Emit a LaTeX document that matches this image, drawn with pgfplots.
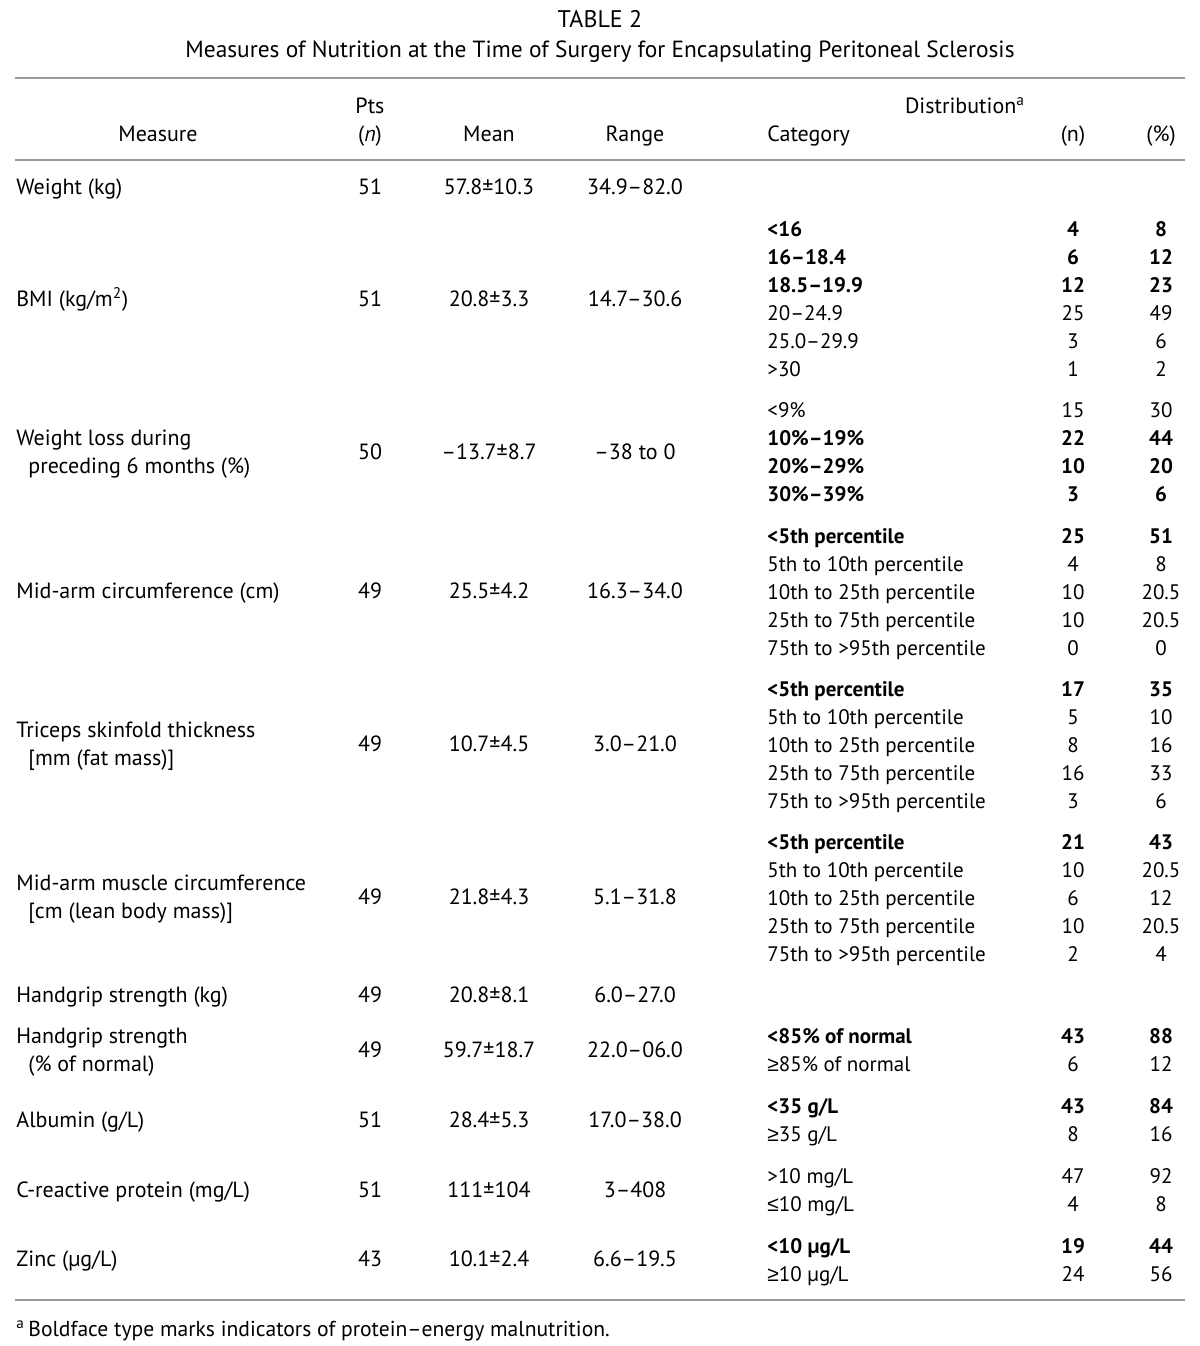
\documentclass[border=0pt]{standalone}
\usepackage{pgfplots}
\pgfplotsset{compat=1.18}
\usepackage{fontspec}
\setmainfont{PT Sans}
\newfontfamily\symf{Liberation Sans}
\newcommand{\GEsym}{{\symf ≥}}
\newcommand{\LEsym}{{\symf ≤}}
\newcommand{\lf}{\fontsize{11pt}{13pt}\selectfont}
\newcommand{\tl}[3]{\node[anchor=base west,inner sep=0pt,yshift=-4pt] at (axis cs:#1,#2) {#3};}
\newcommand{\tc}[3]{\node[anchor=base,inner sep=0pt,yshift=-4pt] at (axis cs:#1,#2) {#3};}
% measure row: y, name, pts, mean, range
\newcommand{\mrow}[5]{\tl{16}{#1}{\lf #2}\tc{370}{#1}{\lf #3}\tc{489}{#1}{\lf #4}\tc{635}{#1}{\lf #5}}
\newcommand{\mval}[4]{\tc{370}{#1}{\lf #2}\tc{489}{#1}{\lf #3}\tc{635}{#1}{\lf #4}}
% category row: y, cat, n, pct
\newcommand{\crow}[4]{\tl{767}{#1}{#2}\tc{1073}{#1}{#3}\tc{1161}{#1}{#4}}
\newcommand{\brow}[4]{\tl{767}{#1}{\bfseries #2}\tc{1073}{#1}{\bfseries #3}\tc{1161}{#1}{\bfseries #4}}
\begin{document}
\fontsize{10.5pt}{12pt}\selectfont
\begin{tikzpicture}
\begin{axis}[hide axis, scale only axis, width=600pt, height=673pt,
  xmin=0, xmax=1200, ymin=0, ymax=1346, y dir=reverse, clip=false]
\path (rel axis cs:0,0) rectangle (rel axis cs:1,1);
\addplot[gray!80, line width=1pt] coordinates {(15,78) (1185,78)};
\addplot[gray!80, line width=1pt] coordinates {(15,160) (1185,160)};
\addplot[gray!80, line width=1pt] coordinates {(15,1300) (1185,1300)};
% title
\tc{600}{19}{\fontsize{12pt}{14pt}\selectfont TABLE 2}
\tc{600}{49}{\fontsize{11.7pt}{14pt}\selectfont Measures of Nutrition at the Time of Surgery for Encapsulating Peritoneal Sclerosis}
% header
\tc{158}{133}{\lf Measure}
\tc{370}{105}{\lf Pts}
\tc{370}{133}{\lf (\textit{n})}
\tc{489}{133}{\lf Mean}
\tc{635}{133}{\lf Range}
\tc{965}{105}{\lf Distribution\textsuperscript{a}}
\tl{767}{133}{\lf Category}
\tc{1073}{133}{\lf (n)}
\tc{1161}{133}{\lf (\%)}
% Weight
\mrow{186}{Weight (kg)}{51}{57.8±10.3}{34.9–82.0}
% BMI
\mrow{298}{BMI (kg/m\textsuperscript{2})}{51}{20.8±3.3}{14.7–30.6}
\brow{228}{<16}{4}{8}
\brow{256}{16–18.4}{6}{12}
\brow{284}{18.5–19.9}{12}{23}
\crow{312}{20–24.9}{25}{49}
\crow{340}{25.0–29.9}{3}{6}
\crow{368}{>30}{1}{2}
% Weight loss
\tl{16}{437}{\lf Weight loss during}
\tl{28}{465}{\lf preceding 6 months (\%)}
\mval{451}{50}{–13.7±8.7}{–38 to 0}
\crow{409}{<9\%}{15}{30}
\brow{437}{10\%–19\%}{22}{44}
\brow{465}{20\%–29\%}{10}{20}
\brow{493}{30\%–39\%}{3}{6}
% Mid-arm
\mrow{590}{Mid-arm circumference (cm)}{49}{25.5±4.2}{16.3–34.0}
\brow{535}{<5th percentile}{25}{51}
\crow{563}{5th to 10th percentile}{4}{8}
\crow{591}{10th to 25th percentile}{10}{20.5}
\crow{619}{25th to 75th percentile}{10}{20.5}
\crow{647}{75th to >95th percentile}{0}{0}
% Triceps
\tl{16}{729}{\lf Triceps skinfold thickness}
\tl{28}{757}{\lf [mm (fat mass)]}
\mval{743}{49}{10.7±4.5}{3.0–21.0}
\brow{688}{<5th percentile}{17}{35}
\crow{716}{5th to 10th percentile}{5}{10}
\crow{744}{10th to 25th percentile}{8}{16}
\crow{772}{25th to 75th percentile}{16}{33}
\crow{800}{75th to >95th percentile}{3}{6}
% Mid-arm muscle
\tl{16}{882}{\lf Mid-arm muscle circumference}
\tl{28}{910}{\lf [cm (lean body mass)]}
\mval{896}{49}{21.8±4.3}{5.1–31.8}
\brow{841}{<5th percentile}{21}{43}
\crow{869}{5th to 10th percentile}{10}{20.5}
\crow{897}{10th to 25th percentile}{6}{12}
\crow{925}{25th to 75th percentile}{10}{20.5}
\crow{953}{75th to >95th percentile}{2}{4}
% Handgrip
\mrow{994}{Handgrip strength (kg)}{49}{20.8±8.1}{6.0–27.0}
\tl{16}{1035}{\lf Handgrip strength}
\tl{28}{1063}{\lf (\% of normal)}
\mval{1049}{49}{59.7±18.7}{22.0–06.0}
\brow{1035}{<85\% of normal}{43}{88}
\crow{1063}{\GEsym85\% of normal}{6}{12}
% Albumin
\mrow{1119}{Albumin (g/L)}{51}{28.4±5.3}{17.0–38.0}
\brow{1105}{<35 g/L}{43}{84}
\crow{1133}{\GEsym35 g/L}{8}{16}
% CRP
\mrow{1189}{C-reactive protein (mg/L)}{51}{111±104}{3–408}
\crow{1175}{>10 mg/L}{47}{92}
\crow{1203}{\LEsym10 mg/L}{4}{8}
% Zinc
\mrow{1258}{Zinc (µg/L)}{43}{10.1±2.4}{6.6–19.5}
\brow{1245}{<10 µg/L}{19}{44}
\crow{1273}{\GEsym10 µg/L}{24}{56}
% footnote
\tl{16}{1328}{\fontsize{10.8pt}{13pt}\selectfont \textsuperscript{a}\,Boldface type marks indicators of protein–energy malnutrition.}
\end{axis}
\end{tikzpicture}
\end{document}
